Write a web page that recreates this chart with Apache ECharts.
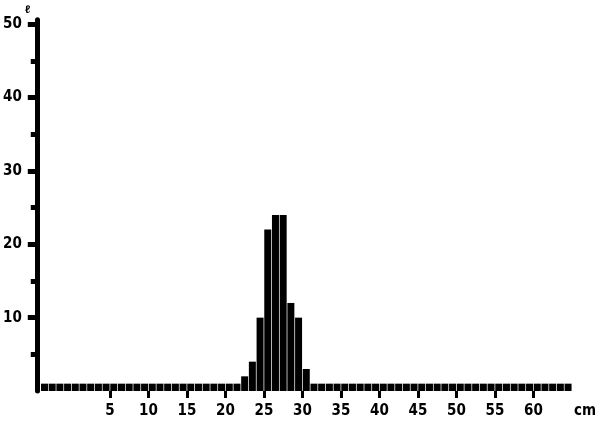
<!DOCTYPE html>
<html>
<head>
<meta charset="utf-8">
<script src="https://cdn.jsdelivr.net/npm/echarts@6/dist/echarts.min.js"></script>
<style>
html,body{margin:0;padding:0;background:#fff;}
#c{width:599px;height:424px;}
</style>
</head>
<body>
<div id="c"></div>
<script>
// Length classes (lower bound, cm) and counts per class
const lengthClass = [-4,-3,-2,-1,0,1,2,3,4,5,6,7,8,9,10,11,12,13,14,15,16,17,18,19,20,21,
  22,23,24,25,26,27,28,29,30,
  31,32,33,34,35,36,37,38,39,40,41,42,43,44,45,46,47,48,49,50,51,52,53,54,55,56,57,58,59,60,61,62,63,64];
const counts = [1,1,1,1,1,1,1,1,1,1,1,1,1,1,1,1,1,1,1,1,1,1,1,1,1,1,
  2,4,10,22,24,24,12,10,3,
  1,1,1,1,1,1,1,1,1,1,1,1,1,1,1,1,1,1,1,1,1,1,1,1,1,1,1,1,1,1,1,1,1,1];
const xTickValues = [5,10,15,20,25,30,35,40,45,50,55,60];
const unitPos = 66.7;
const yMajor = [10,20,30,40,50];
const yMinor = [5,15,25,35,45];

const FONT = '"DejaVu Sans Condensed","Liberation Sans Narrow",sans-serif';
const chart = echarts.init(document.getElementById('c'), null, {renderer:'canvas'});
const barData = lengthClass.map((k,i)=>[k+0.5, counts[i]]);
const yMin = 0, yMax = 50.6;
chart.setOption({
  animation:false,
  grid:{left:34.4, right:5.6, top:19.8, bottom:33, containLabel:false},
  xAxis:{
    type:'value', min:-4.5, max:67.5,
    axisLine:{show:false, onZero:false},
    splitLine:{show:false},
    axisTick:{show:true, customValues:xTickValues, length:7, lineStyle:{color:'#000', width:3}},
    axisLabel:{show:true, customValues:xTickValues.concat([unitPos]), margin:13,
      formatter:v=> v>65 ? 'cm' : String(v),
      color:'#000', fontFamily:FONT, fontWeight:'bold', fontSize:15}
  },
  yAxis:[{
    type:'value', min:yMin, max:yMax,
    name:'ℓ', nameLocation:'end', nameGap:4,
    nameTextStyle:{color:'#000', fontSize:11, fontWeight:'bold', padding:[0,18,0,0]},
    axisLine:{show:true, onZero:false, lineStyle:{color:'#000', width:5}},
    splitLine:{show:false},
    axisTick:{show:true, customValues:yMajor, length:9, lineStyle:{color:'#000', width:5}},
    axisLabel:{show:true, customValues:yMajor, margin:15, color:'#000', fontFamily:FONT, fontWeight:'bold', fontSize:15}
  },{
    type:'value', min:yMin, max:yMax, position:'left', offset:0,
    axisLine:{show:false, onZero:false},
    splitLine:{show:false},
    axisTick:{show:true, customValues:yMinor, length:6, lineStyle:{color:'#000', width:5}},
    axisLabel:{show:false}
  }],
  series:[{
    type:'bar', data:barData, barWidth:7, yAxisIndex:0,
    itemStyle:{color:'#000'}
  }]
});
</script>
</body>
</html>
